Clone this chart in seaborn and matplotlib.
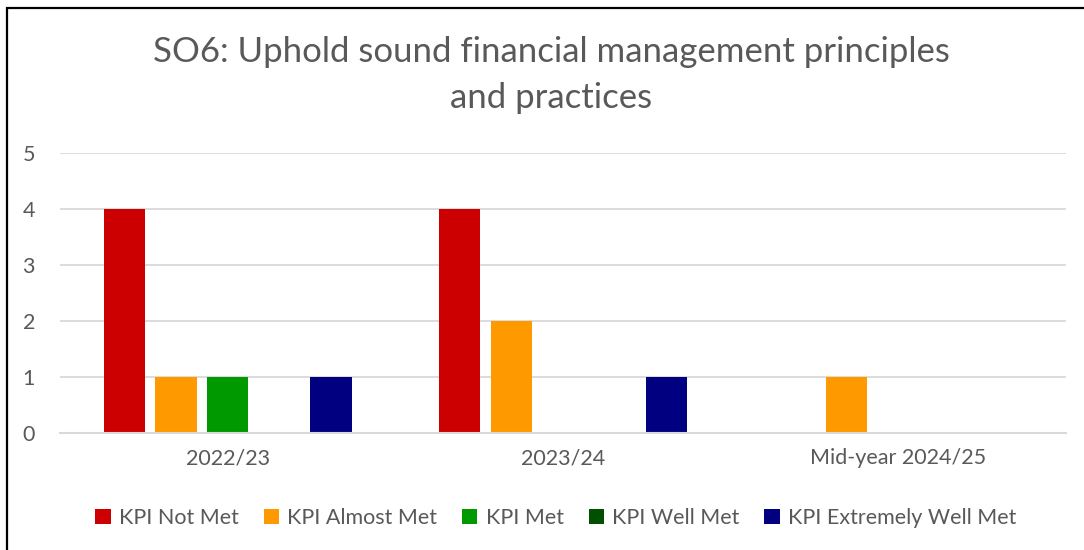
import matplotlib
matplotlib.use("Agg")
import matplotlib.pyplot as plt
from matplotlib.patches import Rectangle
import pandas as pd
import seaborn as sns

periods = ["2022/23", "2023/24", "Mid-year 2024/25"]
statuses = ["KPI Not Met", "KPI Almost Met", "KPI Met", "KPI Well Met", "KPI Extremely Well Met"]
not_met = [4, 4, 0]
almost_met = [1, 2, 1]
met = [1, 0, 0]
well_met = [0, 0, 0]
extremely_well_met = [1, 1, 0]
colors = ["#CC0000", "#FF9900", "#009900", "#005000", "#000080"]

series = [not_met, almost_met, met, well_met, extremely_well_met]
rows = []
for status, vals in zip(statuses, series):
    for period, v in zip(periods, vals):
        rows.append({"period": period, "status": status, "count": v})
df = pd.DataFrame(rows)

sns.set_theme(style="white")
plt.rcParams["font.family"] = ["Lato", "DejaVu Sans"]
text_color = "#595959"

fig = plt.figure(figsize=(10.84, 5.5), dpi=100)
ax = fig.add_axes([60 / 1084, 1 - 433 / 550, 1006 / 1084, 280 / 550])

sns.barplot(data=df, x="period", y="count", hue="status", order=periods,
            hue_order=statuses, palette=colors, width=0.77, gap=0.2,
            saturation=1, linewidth=0, ax=ax, legend=True)

ax.set_ylim(0, 5)
ax.set_xlim(-0.5, 2.5)
ax.set_yticks(range(0, 6))
ax.yaxis.grid(True, color="#D9D9D9", linewidth=1.3)
ax.set_axisbelow(True)
for side in ["top", "right", "left"]:
    ax.spines[side].set_visible(False)
ax.spines["bottom"].set_color("#D9D9D9")
ax.spines["bottom"].set_linewidth(1.5)
ax.set_xlabel("")
ax.set_ylabel("")
ax.tick_params(axis="both", length=0, labelsize=15.5, labelcolor=text_color)
ax.tick_params(axis="y", pad=18)
ax.tick_params(axis="x", pad=11)

handles, labels = ax.get_legend_handles_labels()
ax.get_legend().remove()
fig.legend(handles, labels, loc="center", bbox_to_anchor=(556 / 1084, 1 - 518 / 550),
           ncol=5, frameon=False, fontsize=15.5, labelcolor=text_color,
           handlelength=0.7, handleheight=0.7, handletextpad=0.4, columnspacing=1.15)

fig.text(551 / 1084, 1 - 52 / 550, "SO6: Uphold sound financial management principles",
         ha="center", va="center", fontsize=25, color=text_color)
fig.text(551 / 1084, 1 - 98 / 550, "and practices",
         ha="center", va="center", fontsize=25, color=text_color)

fig.patches.append(Rectangle((7 / 1084, -0.1), 1.2, 1 - 8 / 550 + 0.1,
                             transform=fig.transFigure, fill=False,
                             edgecolor="black", linewidth=1.6, zorder=10))

fig.savefig("out.png", dpi=100, facecolor="white")
